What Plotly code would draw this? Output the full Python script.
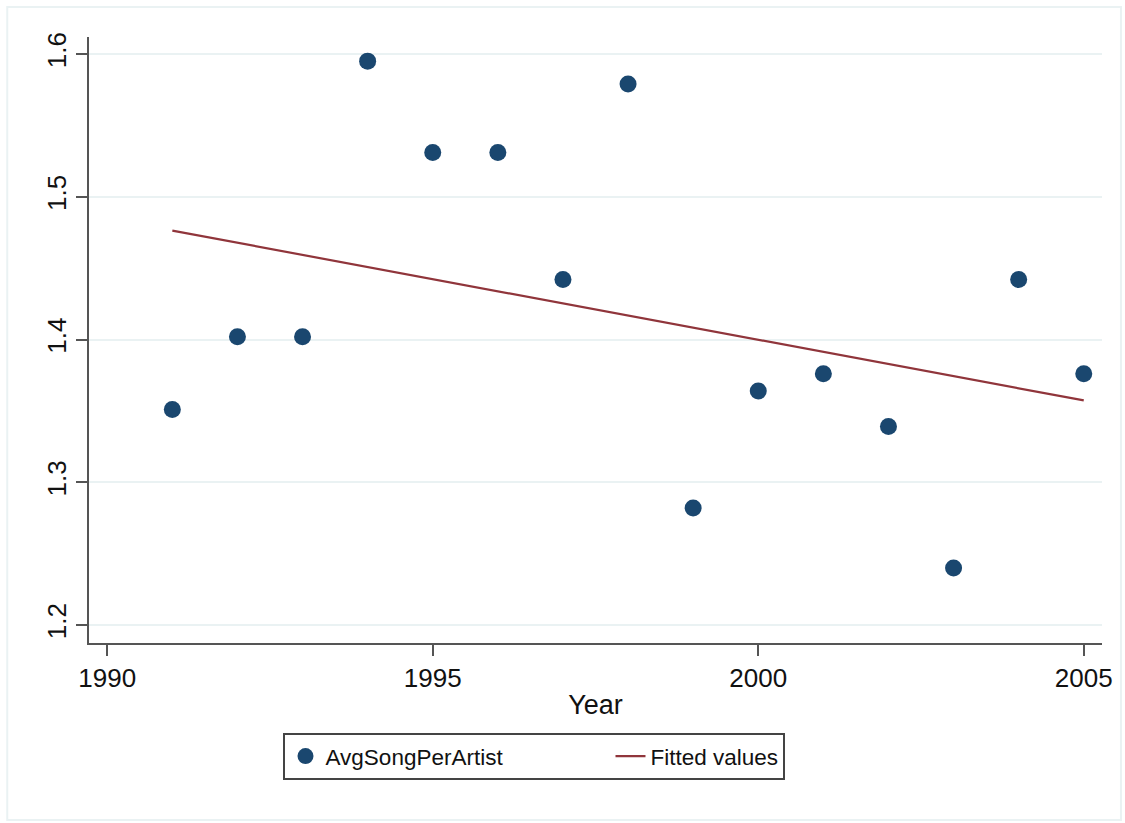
import numpy as np
import plotly.graph_objects as go

# Average number of songs per artist, by year
years = [1991, 1992, 1993, 1994, 1995, 1996, 1997, 1998, 1999, 2000, 2001, 2002, 2003, 2004, 2005]
avg_song_per_artist = [1.351, 1.402, 1.402, 1.595, 1.531, 1.531, 1.442, 1.579, 1.282,
                       1.364, 1.376, 1.339, 1.240, 1.442, 1.376]

x_ticks = [1990, 1995, 2000, 2005]
y_ticks = [1.2, 1.3, 1.4, 1.5, 1.6]

# Linear fit (OLS) of the series on year
slope, intercept = np.polyfit(years, avg_song_per_artist, 1)
fitted = [intercept + slope * yr for yr in years]

FONT = "Liberation Sans, Arial, Helvetica, sans-serif"
NAVY = "#1a476f"
MAROON = "#90353b"
GRID = "#eaf2f3"
AXIS = "#555555"

fig = go.Figure()
fig.add_trace(go.Scatter(
    x=years, y=avg_song_per_artist, mode="markers", name="AvgSongPerArtist",
    marker=dict(color=NAVY, size=17, line=dict(width=0)),
    legendwidth=280,
))
fig.add_trace(go.Scatter(
    x=years, y=fitted, mode="lines", name="Fitted values",
    line=dict(color=MAROON, width=2.2),
))

fig.update_layout(
    width=1125, height=823,
    margin=dict(l=89, r=20, t=37, b=180),
    paper_bgcolor="white", plot_bgcolor="white",
    font=dict(family=FONT, size=26, color="#111111"),
    showlegend=True,
    legend=dict(
        orientation="h", x=0.192, xanchor="left", y=-0.1485, yanchor="top",
        bordercolor="#444444", borderwidth=2, bgcolor="white",
        font=dict(family=FONT, size=22.5, color="#111111"),
        itemwidth=30,
    ),
    shapes=[dict(
        type="rect", xref="paper", yref="paper",
        x0=-0.0807, x1=1.0187, y0=-0.292, y1=1.0495,
        line=dict(color=GRID, width=2), fillcolor="rgba(0,0,0,0)", layer="below",
    )],
)

fig.update_xaxes(
    range=[1989.72, 2005.28], tickvals=x_ticks, ticktext=[str(v) for v in x_ticks],
    showgrid=False, zeroline=False,
    showline=True, linecolor=AXIS, linewidth=2,
    ticks="outside", ticklen=11, tickwidth=1.5, tickcolor=AXIS,
    title=dict(text="Year", standoff=3, font=dict(size=27)),
)
fig.update_yaxes(
    range=[1.1874, 1.6119], tickvals=y_ticks, ticktext=[f"{v:.1f}" for v in y_ticks],
    tickangle=-90,
    showgrid=True, gridcolor=GRID, gridwidth=2, zeroline=False,
    showline=True, linecolor=AXIS, linewidth=2,
    ticks="outside", ticklen=11, tickwidth=1.5, tickcolor=AXIS,
    ticklabelstandoff=0,
)

fig.write_html("out.html")
